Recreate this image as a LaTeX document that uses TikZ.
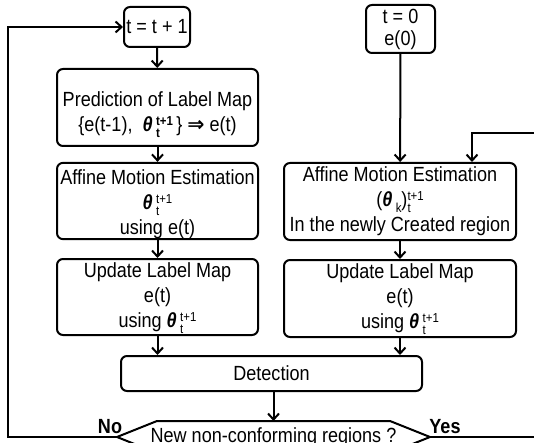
\documentclass[tikz,border=0pt]{standalone}
\usepackage{fontspec}
\setmainfont[FakeStretch=0.88]{Liberation Sans}
\newfontfamily\dejavu{DejaVu Sans}
\usetikzlibrary{arrows.meta}
\newcommand{\thb}{{\bfseries\itshape θ}}
\newcommand{\smallf}{\fontsize{13}{13}\selectfont}
\newcommand{\ssup}[2]{\rlap{\smash{\raisebox{-6pt}{\smallf #1}}}\smash{\raisebox{6pt}{\smallf #2}}}
\begin{document}
\begin{tikzpicture}[x=1pt,y=-1pt,
  every node/.style={font=\fontsize{20.5}{25}\selectfont},
  box/.style={draw, rounded corners=6pt, line width=2pt, align=center, inner sep=0pt},
  arr/.style={-{Straight Barb[length=6pt,width=11pt]}, line width=2pt},
  ln/.style={line width=2pt}]
\useasboundingbox (0,0) rectangle (534,443);
\clip (0,0) rectangle (534,443);

% left column
\node[box, minimum width=66pt, minimum height=40pt] (t1) at (157,27) {t = t + 1};
\node[box, minimum width=201pt, minimum height=77pt] (pred) at (157.5,107.5)
  {\rule{0pt}{28pt}Prediction of Label Map\\ \{e(t-1),\ \ \thb\,{\bfseries\ssup{t}{t+1}}\,\} {\dejavu\bfseries ⇒} e(t)};
\node[box, minimum width=201pt, minimum height=76pt] (affL) at (157.5,201)
  {\rule{0pt}{22pt}Affine Motion Estimation\\ \thb\,\ssup{t}{t+1}\\ using e(t)};
\node[box, minimum width=201pt, minimum height=76pt] (updL) at (157.5,297)
  {Update Label Map\\ e(t)\\ using \thb\,\ssup{t}{t+1}};

% right column
\node[box, minimum width=69pt, minimum height=48pt] (t0) at (400.5,29) {t = 0\\[-3pt] e(0)};
\node[box, minimum width=232pt, minimum height=77pt] (affR) at (400,201.5)
  {Affine Motion Estimation\\ (\thb\,\raisebox{-6pt}{\smallf k})\ssup{t}{t+1}\\ In the newly Created region};
\node[box, minimum width=232pt, minimum height=77pt] (updR) at (400,298.5)
  {Update Label Map\\ e(t)\\ using \thb\,\ssup{t}{t+1}};

% detection
\node[box, minimum width=301pt, minimum height=35pt] (det) at (271.5,373.5) {Detection};

% decision hexagon
\coordinate (hexW) at (117,437);
\coordinate (hexE) at (430,437);
\coordinate (hexN) at (273.5,421);
\draw[ln] (hexW) -- (157,421) -- (390,421) -- (hexE) -- (390,453) -- (157,453) -- cycle;
\node (hex) at (273.5,437.5) {New non-conforming regions ?};
\node[font=\fontsize{20.5}{25}\selectfont\bfseries] (no) at (110,427) {No};
\node[font=\fontsize{20.5}{25}\selectfont\bfseries] (yes) at (445,427) {Yes};

% connectors
\draw[arr] (t1) -- (pred);
\draw[arr] (pred) -- (affL);
\draw[arr] (affL) -- (updL);
\draw[arr] (updL.south) -- (updL.south |- det.north);
\draw[arr] (t0) -- (affR);
\draw[arr] (affR) -- (updR);
\draw[arr] (updR.south) -- (updR.south |- det.north);
\draw[arr] (hexN |- det.south) -- (hexN);
\coordinate (noCorner) at (8,437);
\draw[arr] (hexW) -- (noCorner) |- (t1.west);
\coordinate (yesCorner) at (545,437);
\coordinate (yesTop) at (545,133);
\draw[arr] (hexE) -- (yesCorner) -- (yesTop) -| ([xshift=72pt]affR.north);
\end{tikzpicture}
\end{document}
